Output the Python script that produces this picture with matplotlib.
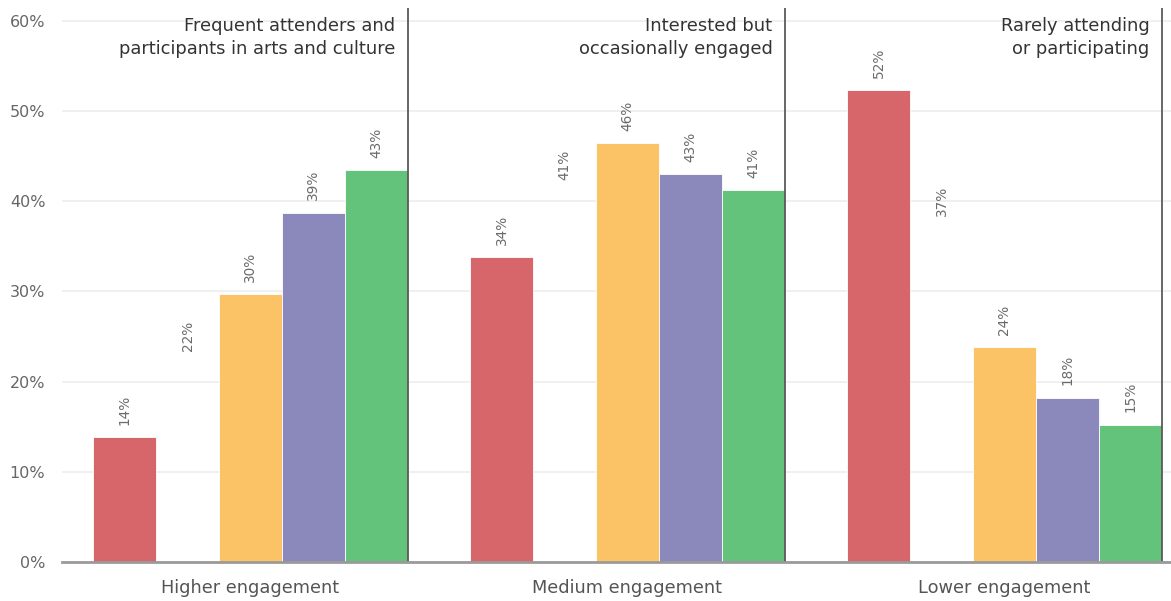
import numpy as np
import matplotlib.pyplot as plt

# engagement groups on the x axis
groups = ["Higher engagement", "Medium engagement", "Lower engagement"]
notes = [
    "Frequent attenders and\nparticipants in arts and culture",
    "Interested but\noccasionally engaged",
    "Rarely attending\nor participating",
]

# five series per group, the second one is drawn blank (only its label shows)
series_a = [13.8, 33.8, 52.3]
series_b = [22.0, 41.0, 37.0]
series_c = [29.7, 46.4, 23.8]
series_d = [38.7, 43.0, 18.2]
series_e = [43.4, 41.2, 15.2]

colors = ["#D6666A", "none", "#FBC365", "#8B89BC", "#63C37A"]


def main():
    all_series = [series_a, series_b, series_c, series_d, series_e]

    fig = plt.figure(figsize=(11.71, 6.01), dpi=100)
    ax = fig.add_axes([0.0529, 0.0649, 0.9471, 0.9218])

    centers = np.arange(len(groups)) * 6.0
    for i, (vals, col) in enumerate(zip(all_series, colors)):
        xs = centers + (i - 2)
        edge = "none" if col == "none" else "white"
        bars = ax.bar(xs, vals, width=1.0, color=col, edgecolor=edge,
                      linewidth=0.6, zorder=2)
        for b, v in zip(bars, vals):
            ax.annotate("{:.0f}%".format(v), (b.get_x() + b.get_width() / 2, v),
                        xytext=(0, 9), textcoords="offset points",
                        rotation=90, ha="center", va="bottom",
                        fontsize=9.8, color="#6b6b6b")

    # separators and group notes
    for c, note in zip(centers, notes):
        sep = c + 2.5
        ax.axvline(sep, color="#5a5a5a", linewidth=1.3, zorder=3)
        ax.text(sep - 0.19, 60.4, note, ha="right", va="top",
                multialignment="right", fontsize=12.9, color="#333333",
                linespacing=1.35)

    ax.set_xlim(-3.0, 14.65)
    ax.set_ylim(0, 61.4)
    ax.set_yticks(np.arange(0, 61, 10))
    ax.set_yticklabels(["{}%".format(t) for t in range(0, 61, 10)])
    ax.set_xticks(centers)
    ax.set_xticklabels(groups)

    ax.grid(axis="y", color="#eeeeee", linewidth=1.2, zorder=0)
    ax.set_axisbelow(True)
    for s in ["top", "right", "left"]:
        ax.spines[s].set_visible(False)
    ax.spines["bottom"].set_color("#9a9a9a")
    ax.spines["bottom"].set_linewidth(2)
    ax.spines["bottom"].set_zorder(4)

    ax.tick_params(axis="y", length=0, pad=12, labelsize=11.5, labelcolor="#666666")
    ax.tick_params(axis="x", length=0, pad=12, labelsize=12.8, labelcolor="#555555")

    fig.savefig("out.png", dpi=100)


if __name__ == "__main__":
    main()
